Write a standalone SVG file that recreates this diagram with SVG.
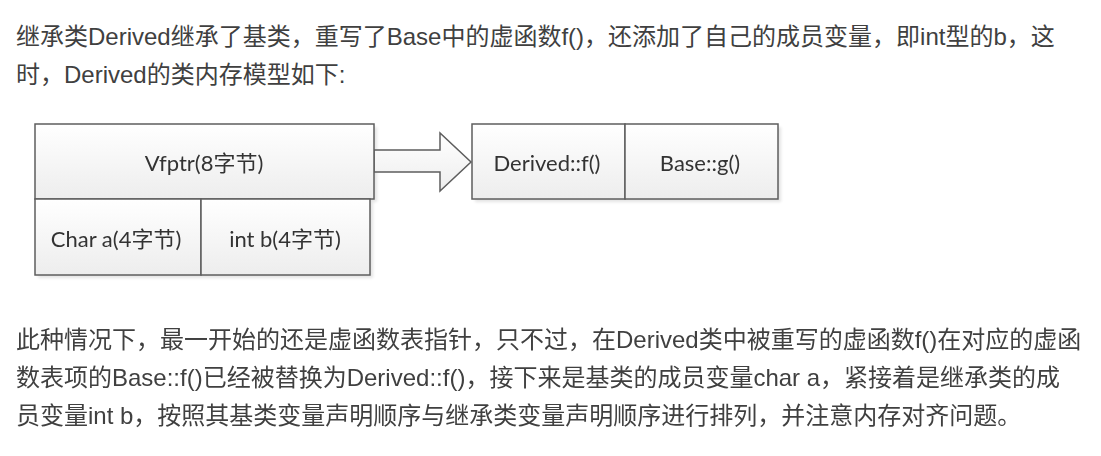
<svg xmlns="http://www.w3.org/2000/svg" width="1101" height="456" viewBox="0 0 1101 456">
  <style>
    .para { font-family: "Liberation Sans", "Noto Sans CJK SC", sans-serif; font-size: 24px; fill: #404040; }
    .lbl { font-family: Lato, "Noto Sans CJK SC", sans-serif; font-size: 22px; fill: #333333; text-anchor: middle; dominant-baseline: central; }
    .box { fill: url(#g); stroke: #5e5e5e; stroke-width: 1.5; }
    .shadow { fill: #d9d9d9; opacity: 0.7; }
  </style>
  <defs>
    <linearGradient id="g" x1="0" y1="0" x2="0" y2="1">
      <stop offset="0" stop-color="#ffffff"/>
      <stop offset="1" stop-color="#ededed"/>
    </linearGradient>
    <filter id="blur" x="-10%" y="-10%" width="120%" height="120%">
      <feGaussianBlur stdDeviation="1.5"/>
    </filter>
  </defs>
  <rect width="1101" height="456" fill="#ffffff"/>

  <g id="intro-text">
    <text class="para" x="16" y="45">继承类Derived继承了基类，重写了Base中的虚函数f()，还添加了自己的成员变量，即int型的b，这</text>
    <text class="para" x="16" y="83">时，Derived的类内存模型如下:</text>
  </g>

  <g id="shadows" filter="url(#blur)">
    <rect class="shadow" x="38" y="127" width="339" height="75"/>
    <rect class="shadow" x="38" y="202" width="335" height="76"/>
    <rect class="shadow" x="475" y="127" width="306" height="75"/>
  </g>

  <g id="connectors">
    <path class="box" d="M374,150 L440,150 L440,133 L471,162 L440,191 L440,172 L374,172 Z"/>
  </g>

  <g id="vfptr">
    <rect class="box" x="35" y="124" width="339" height="75"/>
    <text class="lbl" x="204" y="162">Vfptr(8字节)</text>
  </g>
  <g id="char-a">
    <rect class="box" x="35" y="199" width="166" height="76"/>
    <text class="lbl" x="116" y="238">Char a(4字节)</text>
  </g>
  <g id="int-b">
    <rect class="box" x="201" y="199" width="169" height="76"/>
    <text class="lbl" x="285" y="238">int b(4字节)</text>
  </g>
  <g id="derived-f">
    <rect class="box" x="472" y="124" width="153" height="75"/>
    <text class="lbl" x="547" y="162">Derived::f()</text>
  </g>
  <g id="base-g">
    <rect class="box" x="625" y="124" width="153" height="75"/>
    <text class="lbl" x="700" y="162">Base::g()</text>
  </g>

  <g id="outro-text">
    <text class="para" x="16" y="348">此种情况下，最一开始的还是虚函数表指针，只不过，在Derived类中被重写的虚函数f()在对应的虚函</text>
    <text class="para" x="16" y="386">数表项的Base::f()已经被替换为Derived::f()，接下来是基类的成员变量char a，紧接着是继承类的成</text>
    <text class="para" x="16" y="424">员变量int b，按照其基类变量声明顺序与继承类变量声明顺序进行排列，并注意内存对齐问题。</text>
  </g>
</svg>
